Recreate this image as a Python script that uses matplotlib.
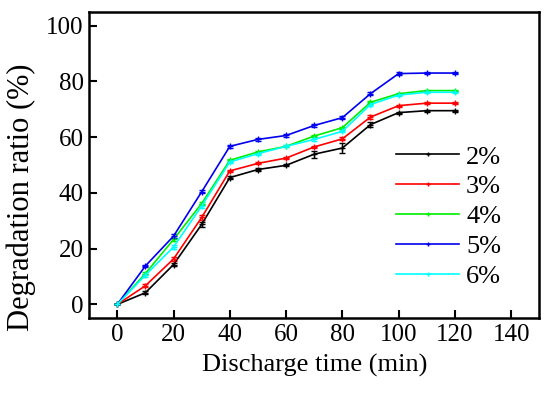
import matplotlib
matplotlib.use("Agg")
import matplotlib.pyplot as plt
from matplotlib.lines import Line2D

plt.rcParams['font.family'] = ['Liberation Serif', 'DejaVu Serif']

time = [0, 10, 20, 30, 40, 50, 60, 70, 80, 90, 100, 110, 120]

deg_2 = [0, 4.2, 14.3, 28.7, 45.5, 48.4, 49.9, 53.9, 56.1, 64.5, 68.8, 69.5, 69.5]
deg_3 = [0, 6.7, 16.3, 31.2, 47.9, 50.6, 52.5, 56.5, 59.4, 67.2, 71.3, 72.2, 72.2]
deg_4 = [0, 11.1, 23.3, 36.2, 51.7, 54.7, 56.7, 60.4, 63.4, 72.5, 75.6, 76.7, 76.7]
deg_5 = [0, 13.8, 24.5, 40.4, 56.7, 59.2, 60.6, 64.2, 67.0, 75.6, 82.8, 83.0, 83.0]
deg_6 = [0, 10.5, 20.6, 35.3, 51.1, 54.1, 56.7, 59.2, 62.1, 71.7, 75.1, 76.1, 76.1]

err_2 = [0, 0.6, 0.6, 0.8, 0.5, 0.4, 0.4, 1.2, 1.7, 0.9, 0.4, 0.3, 0.3]
err_3 = [0, 0.5, 0.6, 0.8, 0.5, 0.4, 0.4, 0.4, 0.5, 0.7, 0.4, 0.3, 0.3]
err_4 = [0, 0.5, 0.6, 0.6, 0.5, 0.4, 0.4, 0.4, 0.4, 0.6, 0.4, 0.3, 0.3]
err_5 = [0, 0.5, 0.6, 0.6, 0.5, 0.4, 0.4, 0.4, 0.5, 0.6, 0.4, 0.3, 0.3]
err_6 = [0, 0.5, 0.6, 0.6, 0.5, 0.4, 0.4, 0.4, 0.4, 0.6, 0.4, 0.3, 0.3]

labels = ['2%', '3%', '4%', '5%', '6%']
colors = ['black', 'red', '#00ee00', '#0000ee', 'cyan']
series = [deg_2, deg_3, deg_4, deg_5, deg_6]
errors = [err_2, err_3, err_4, err_5, err_6]

fig = plt.figure(figsize=(5.5, 3.98), dpi=100)
ax = fig.add_axes([0.162, 0.2, 0.8186, 0.7706])

handles = []
for y, e, c, lab in zip(series, errors, colors, labels):
    ax.errorbar(time, y, yerr=e, color=c, lw=1.2, marker='+', ms=4,
                capsize=2.5, elinewidth=1.0, capthick=1.0)
    handles.append(Line2D([], [], color=c, lw=1.2, marker='+', ms=3, label=lab))

ax.set_xlim(-10, 150)
ax.set_ylim(-5, 105)
ax.set_xticks(range(0, 141, 20))
ax.set_yticks(range(0, 101, 20))
ax.tick_params(direction='in', length=6, width=1.5, labelsize=18, pad=4)
for s in ax.spines.values():
    s.set_linewidth(1.8)

ax.set_xlabel('Discharge time (min)', fontsize=19, labelpad=6)
ax.set_ylabel('Degradation ratio (%)', fontsize=22)
ax.yaxis.set_label_coords(-0.118, 0.394)

ax.legend(handles=handles, loc='upper left', bbox_to_anchor=(0.682, 0.565),
          frameon=False, fontsize=19, handlelength=2.4, handletextpad=0.25,
          labelspacing=0.24, borderpad=0, borderaxespad=0)

fig.savefig('out.png', dpi=100)
